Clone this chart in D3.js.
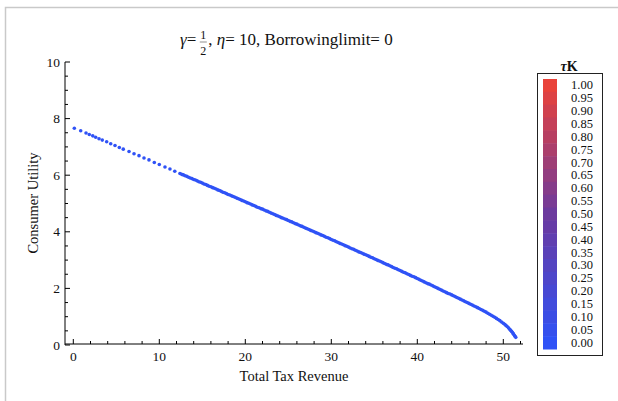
<!DOCTYPE html>
<html>
<head>
<meta charset="utf-8">
<script src="https://cdn.jsdelivr.net/npm/d3@7"></script>
<style>
  html, body { margin: 0; padding: 0; background: #fff; }
  svg { display: block; }
  text { font-family: "Liberation Serif", "DejaVu Serif", serif; fill: #111; }
</style>
</head>
<body>
<script>
// Total tax revenue (x) against consumer utility (y); every point has τK = 0.
const revenue = [
  0.12, 0.86, 1.48, 1.86, 2.26, 2.60, 2.99, 3.37, 3.88, 4.35, 4.85, 5.35, 5.81, 6.48,
  7.06, 7.64, 8.22, 8.80, 9.42, 10.0, 10.66, 11.24, 11.8,
  12.4, 12.6, 12.8, 13.0, 13.2, 13.4, 13.6, 13.8, 14.0, 14.2, 14.4, 14.6, 14.8, 15.0,
  15.2, 15.4, 15.6, 15.8, 16.0, 16.2, 16.4, 16.6, 16.8, 17.0, 17.2, 17.4, 17.6, 17.8,
  18.0, 18.2, 18.4, 18.6, 18.8, 19.0, 19.2, 19.4, 19.6, 19.8, 20.0, 20.2, 20.4, 20.6,
  20.8, 21.0, 21.2, 21.4, 21.6, 21.8, 22.0, 22.2, 22.4, 22.6, 22.8, 23.0, 23.2, 23.4,
  23.6, 23.8, 24.0, 24.2, 24.4, 24.6, 24.8, 25.0, 25.2, 25.4, 25.6, 25.8, 26.0, 26.2,
  26.4, 26.6, 26.8, 27.0, 27.2, 27.4, 27.6, 27.8, 28.0, 28.2, 28.4, 28.6, 28.8, 29.0,
  29.2, 29.4, 29.6, 29.8, 30.0, 30.2, 30.4, 30.6, 30.8, 31.0, 31.2, 31.4, 31.6, 31.8,
  32.0, 32.2, 32.4, 32.6, 32.8, 33.0, 33.2, 33.4, 33.6, 33.8, 34.0, 34.2, 34.4, 34.6,
  34.8, 35.0, 35.2, 35.4, 35.6, 35.8, 36.0, 36.2, 36.4, 36.6, 36.8, 37.0, 37.2, 37.4,
  37.6, 37.8, 38.0, 38.2, 38.4, 38.6, 38.8, 39.0, 39.2, 39.4, 39.6, 39.8, 40.0, 40.2,
  40.4, 40.6, 40.8, 41.0, 41.2, 41.4, 41.6, 41.8, 42.0, 42.2, 42.4, 42.6, 42.8, 43.0,
  43.2, 43.4, 43.6, 43.8, 44.0, 44.2, 44.4, 44.6, 44.8, 45.0, 45.2, 45.4, 45.6, 45.8,
  46.0, 46.2, 46.4, 46.6, 46.8, 47.0, 47.2, 47.4, 47.6, 47.8, 48.0, 48.2, 48.4, 48.6,
  48.8, 49.0, 49.2, 49.4, 49.6, 49.8, 50.0, 50.15, 50.3, 50.45, 50.6, 50.75, 50.85,
  50.95, 51.05, 51.15, 51.2, 51.3, 51.38, 51.45
];
const utility = [
  7.66, 7.57, 7.49, 7.44, 7.39, 7.34, 7.29, 7.24, 7.18, 7.11, 7.05, 6.98, 6.92, 6.84,
  6.76, 6.69, 6.61, 6.54, 6.45, 6.38, 6.29, 6.22, 6.14,
  6.06, 6.03, 6.01, 5.98, 5.96, 5.93, 5.90, 5.88, 5.85, 5.83, 5.80, 5.77, 5.75, 5.72,
  5.69, 5.67, 5.64, 5.61, 5.59, 5.56, 5.54, 5.51, 5.48, 5.46, 5.43, 5.40, 5.38, 5.35,
  5.32, 5.30, 5.27, 5.25, 5.22, 5.19, 5.17, 5.14, 5.11, 5.09, 5.06, 5.03, 5.01, 4.98,
  4.95, 4.93, 4.90, 4.87, 4.85, 4.82, 4.80, 4.77, 4.74, 4.72, 4.69, 4.66, 4.64, 4.61,
  4.58, 4.56, 4.53, 4.50, 4.48, 4.45, 4.43, 4.40, 4.37, 4.35, 4.32, 4.29, 4.27, 4.24,
  4.21, 4.19, 4.16, 4.13, 4.11, 4.08, 4.05, 4.03, 4.00, 3.97, 3.95, 3.92, 3.89, 3.87,
  3.84, 3.81, 3.79, 3.76, 3.73, 3.70, 3.68, 3.65, 3.62, 3.59, 3.57, 3.54, 3.51, 3.49,
  3.46, 3.43, 3.40, 3.38, 3.35, 3.32, 3.29, 3.27, 3.24, 3.21, 3.19, 3.16, 3.13, 3.10,
  3.08, 3.05, 3.02, 2.99, 2.97, 2.94, 2.91, 2.88, 2.85, 2.83, 2.80, 2.77, 2.74, 2.71,
  2.69, 2.66, 2.63, 2.60, 2.57, 2.55, 2.52, 2.49, 2.46, 2.43, 2.41, 2.38, 2.35, 2.32,
  2.29, 2.26, 2.23, 2.20, 2.17, 2.15, 2.12, 2.09, 2.06, 2.03, 2.00, 1.97, 1.94, 1.91,
  1.88, 1.85, 1.82, 1.80, 1.77, 1.74, 1.71, 1.68, 1.65, 1.62, 1.59, 1.56, 1.53, 1.50,
  1.47, 1.44, 1.41, 1.38, 1.35, 1.32, 1.29, 1.256, 1.224, 1.192, 1.16, 1.124, 1.088, 1.052,
  1.016, 0.98, 0.94, 0.90, 0.86, 0.815, 0.77, 0.731, 0.692, 0.653, 0.606, 0.555, 0.521,
  0.487, 0.448, 0.404, 0.382, 0.338, 0.303, 0.27
];
const pointTauK = 0;

const xMajorTicks = [0, 10, 20, 30, 40, 50];
const xMinorTicks = [2, 4, 6, 8, 12, 14, 16, 18, 22, 24, 26, 28, 32, 34, 36, 38, 42, 44, 46, 48, 52];
const yMajorTicks = [0, 2, 4, 6, 8, 10];
const legendTicks = [1.00, 0.95, 0.90, 0.85, 0.80, 0.75, 0.70, 0.65, 0.60, 0.55, 0.50,
                     0.45, 0.40, 0.35, 0.30, 0.25, 0.20, 0.15, 0.10, 0.05, 0.00];

const W = 618, H = 401;
const svg = d3.select("body").append("svg").attr("width", W).attr("height", H);

// light window frame
svg.append("path")
  .attr("d", `M5.5,${H} V7.5 H${W}`)
  .attr("fill", "none").attr("stroke", "#c9c9c9").attr("stroke-width", 1.5);

const x = d3.scaleLinear().domain([0, 50]).range([73.3, 503.3]);
const y = d3.scaleLinear().domain([0, 10]).range([345, 62]);
const xLeft = x.invert(65), xRight = x.invert(523);

const color = d3.scaleLinear()
  .domain([0, 0.5, 1])
  .range(["#2f52f6", "#6c3a9e", "#e9433a"])
  .interpolate(d3.interpolateRgb);

// axes, Mathematica style: ticks pointing inward
const gx = svg.append("g").attr("transform", `translate(0,${y(0) - 1})`);
gx.append("line").attr("x1", x(xLeft)).attr("x2", x(xRight)).attr("stroke", "#000");
gx.selectAll("line.maj").data(xMajorTicks).join("line").attr("class", "maj")
  .attr("x1", d => x(d)).attr("x2", d => x(d)).attr("y1", 0).attr("y2", -5)
  .attr("stroke", "#000");
gx.selectAll("line.min").data(xMinorTicks).join("line").attr("class", "min")
  .attr("x1", d => x(d)).attr("x2", d => x(d)).attr("y1", 0).attr("y2", -3)
  .attr("stroke", "#000");
gx.selectAll("text").data(xMajorTicks).join("text")
  .attr("x", d => x(d)).attr("y", 16.5).attr("text-anchor", "middle")
  .attr("font-size", 13.5).text(d => d);

const yMinorTicks = d3.range(0.5, 10, 0.5).filter(v => v % 2 !== 0);
const gy = svg.append("g").attr("transform", "translate(65,0)");
gy.append("line").attr("y1", y(0)).attr("y2", y(10)).attr("stroke", "#000");
gy.selectAll("line.maj").data(yMajorTicks).join("line").attr("class", "maj")
  .attr("y1", d => y(d)).attr("y2", d => y(d)).attr("x1", 0).attr("x2", 5)
  .attr("stroke", "#000");
gy.selectAll("line.min").data(yMinorTicks).join("line").attr("class", "min")
  .attr("y1", d => y(d)).attr("y2", d => y(d)).attr("x1", 0).attr("x2", 3)
  .attr("stroke", "#000");
gy.selectAll("text").data(yMajorTicks).join("text")
  .attr("x", -5).attr("y", d => y(d) + 4.5).attr("text-anchor", "end")
  .attr("font-size", 13.5).text(d => d);

// axis titles
svg.append("text").attr("x", 294).attr("y", 381).attr("text-anchor", "middle")
  .attr("font-size", 14.5).text("Total Tax Revenue");
svg.append("text").attr("transform", "translate(37.5,203) rotate(-90)")
  .attr("text-anchor", "middle").attr("font-size", 14.5).text("Consumer Utility");

// points
const pts = revenue.map((r, i) => ({ r, u: utility[i], t: pointTauK }));
svg.append("g").selectAll("circle").data(pts).join("circle")
  .attr("cx", d => x(d.r)).attr("cy", d => y(d.u)).attr("r", 1.8)
  .attr("fill", d => color(d.t));

// title with stacked fraction
const tg = svg.append("g").attr("font-size", 17);
const t1 = tg.append("text").attr("x", 180).attr("y", 45);
t1.append("tspan").attr("font-style", "italic").text("γ");
t1.append("tspan").text("=");
const w1 = t1.node().getComputedTextLength();
const fx = 180 + w1 + 7;
tg.append("text").attr("x", fx).attr("y", 39).attr("text-anchor", "middle")
  .attr("font-size", 12).text("1");
tg.append("line").attr("x1", fx - 3.5).attr("x2", fx + 3.5).attr("y1", 42).attr("y2", 42)
  .attr("stroke", "#444").attr("stroke-width", 0.6);
tg.append("text").attr("x", fx).attr("y", 54.5).attr("text-anchor", "middle")
  .attr("font-size", 12).text("2");
const t2 = tg.append("text").attr("x", fx + 5).attr("y", 45);
t2.append("tspan").text(", ");
t2.append("tspan").attr("font-style", "italic").text("η");
t2.append("tspan").text("= 10, Borrowinglimit= 0");

// colour legend
const lg = svg.append("g");
lg.append("rect").attr("x", 537.5).attr("y", 73.5).attr("width", 65).attr("height", 282)
  .attr("fill", "#fff").attr("stroke", "#222").attr("stroke-width", 1);
lg.append("text").attr("x", 569).attr("y", 71).attr("text-anchor", "middle")
  .attr("font-size", 14).attr("font-weight", "bold")
  .selectAll("tspan").data([["τ", "italic"], ["K", "normal"]]).join("tspan")
  .attr("font-style", d => d[1]).text(d => d[0]);
const band = d3.scaleBand().domain(legendTicks).range([79, 349]);
lg.selectAll("rect.band").data(legendTicks).join("rect").attr("class", "band")
  .attr("x", 543).attr("width", 14).attr("y", d => band(d)).attr("height", band.bandwidth() + 0.5)
  .attr("fill", d => color(d));
lg.selectAll("text.lab").data(legendTicks).join("text").attr("class", "lab")
  .attr("x", 571).attr("y", d => band(d) + band.bandwidth() / 2 + 4)
  .attr("font-size", 12.5).text(d => d.toFixed(2));
</script>
</body>
</html>
